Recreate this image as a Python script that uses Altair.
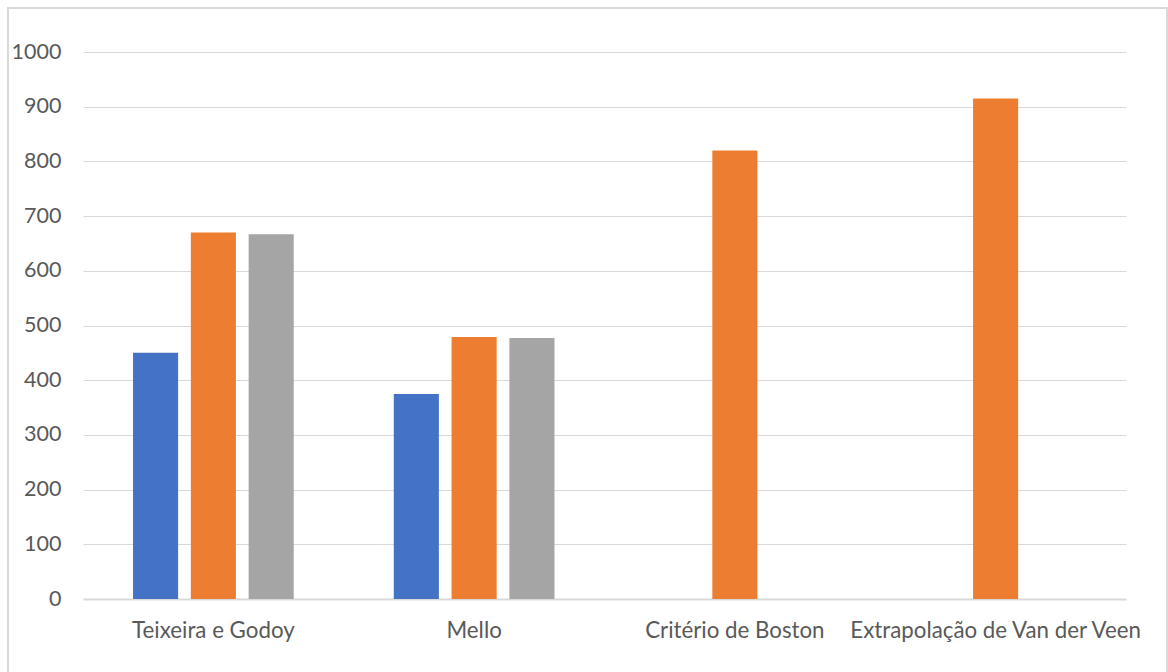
import altair as alt
import pandas as pd

# Categories and series values
categories = ["Teixeira e Godoy", "Mello", "Critério de Boston", "Extrapolação de Van der Veen"]
series_names = ["Série 1", "Série 2", "Série 3"]
serie_1 = [450, 375, None, None]
serie_2 = [670, 479, 820, 915]
serie_3 = [667, 477, None, None]
colors = ["#4472C4", "#ED7D31", "#A5A5A5"]
y_ticks = [0, 100, 200, 300, 400, 500, 600, 700, 800, 900, 1000]

rows = []
for name, values in zip(series_names, [serie_1, serie_2, serie_3]):
    for cat, v in zip(categories, values):
        if v is not None:
            rows.append({"categoria": cat, "serie": name, "valor": v})
df = pd.DataFrame(rows)

FONT = "Lato"

bars = alt.Chart(df).mark_bar().encode(
    x=alt.X(
        "categoria:N",
        sort=categories,
        scale=alt.Scale(domain=categories, paddingInner=0.3837, paddingOuter=0.1919),
        axis=alt.Axis(
            title=None,
            labelAngle=0,
            labelFont=FONT,
            labelFontSize=22.3,
            labelColor="#595959",
            labelPadding=20,
            labelLimit=0,
            ticks=False,
            domainColor="#d9d9d9",
            domainWidth=2,
            grid=False,
        ),
    ),
    xOffset=alt.XOffset(
        "serie:N",
        scale=alt.Scale(domain=series_names, paddingInner=0.22, paddingOuter=0),
    ),
    y=alt.Y(
        "valor:Q",
        scale=alt.Scale(domain=[0, 1000], nice=False),
        axis=alt.Axis(
            title=None,
            values=y_ticks,
            format="d",
            labelFont=FONT,
            labelFontSize=21.5,
            labelColor="#595959",
            labelPadding=22,
            ticks=False,
            domain=False,
            gridColor="#d9d9d9",
            gridWidth=1.2,
        ),
    ),
    color=alt.Color(
        "serie:N",
        scale=alt.Scale(domain=series_names, range=colors),
        legend=None,
    ),
)

# Light frame around the whole chart
frame = alt.Chart(df).mark_rect(
    fill=None, stroke="#d9d9d9", strokeWidth=1.5
).encode(
    x=alt.value(-75), x2=alt.value(1084), y=alt.value(-44), y2=alt.value(640)
)

chart = alt.layer(frame, bars).properties(
    width=1043,
    height=547,
    autosize=alt.AutoSizeParams(type="none"),
    padding={"left": 83, "top": 52, "right": 42, "bottom": 73},
    background="white",
).configure_view(stroke=None)

chart.save("out.html", embed_options={"renderer": "svg", "actions": False})
